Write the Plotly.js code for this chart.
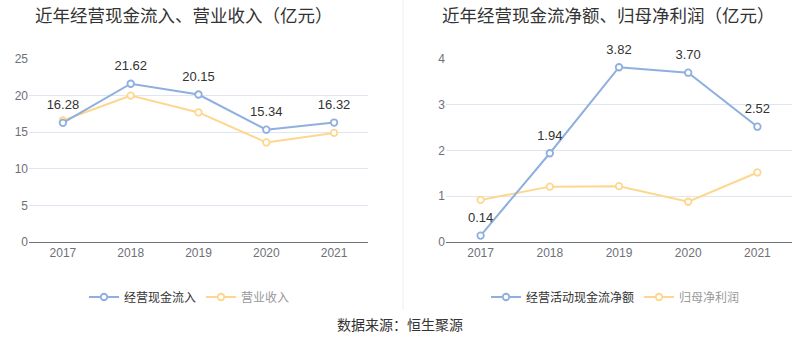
<!DOCTYPE html>
<html>
<head>
<meta charset="utf-8">
<script src="https://cdn.plot.ly/plotly-3.0.1.min.js"></script>
<style>html,body{margin:0;padding:0;background:#fff;}#chart{width:800px;height:358px;}</style>
</head>
<body>
<div id="chart"></div>
<script>
const years = ['2017', '2018', '2019', '2020', '2021'];
const cashInflow = [16.28, 21.62, 20.15, 15.34, 16.32];
const revenue = [16.6, 20.0, 17.7, 13.6, 14.9];
const netCashFlow = [0.14, 1.94, 3.82, 3.70, 2.52];
const netProfit = [0.92, 1.21, 1.22, 0.88, 1.52];
const leftTicks = [0, 5, 10, 15, 20, 25];
const rightTicks = [0, 1, 2, 3, 4];

const BLUE = '#8eafdf';
const YELLOW = '#fed78f';
const FONT = '"Liberation Sans", "Noto Sans CJK SC", sans-serif';
const CJK = '"Noto Sans CJK SC", sans-serif';

function lineTrace(x, y, name, color, xa, ya, legend) {
  return {
    x: x, y: y, name: name, type: 'scatter', mode: 'lines+markers',
    line: {color: color, width: 2},
    marker: {symbol: 'circle', size: 6.5, color: '#fff', line: {color: color, width: 1.8}},
    xaxis: xa, yaxis: ya, legend: legend, cliponaxis: false,
    hoverinfo: 'x+y'
  };
}
function labelTrace(x, y, xa, ya) {
  return {
    x: x, y: y, type: 'scatter', mode: 'markers+text',
    text: y.map(v => v.toFixed(2)), textposition: 'top center',
    textfont: {family: FONT, size: 13, color: '#333'},
    marker: {size: 15, opacity: 0},
    cliponaxis: false, showlegend: false, hoverinfo: 'skip',
    xaxis: xa, yaxis: ya
  };
}

const data = [
  lineTrace(years, revenue, '<span style="color:#999">营业收入</span>', YELLOW, 'x', 'y', 'legend'),
  lineTrace(years, cashInflow, '经营现金流入', BLUE, 'x', 'y', 'legend'),
  labelTrace(years, cashInflow, 'x', 'y'),
  lineTrace(years, netProfit, '<span style="color:#999">归母净利润</span>', YELLOW, 'x2', 'y2', 'legend2'),
  lineTrace(years, netCashFlow, '经营活动现金流净额', BLUE, 'x2', 'y2', 'legend2'),
  labelTrace(years, netCashFlow, 'x2', 'y2')
];

const xCommon = {
  type: 'category', range: [-0.5, 4.5], showgrid: false,
  showline: true, linecolor: '#6e7079', linewidth: 1,
  ticks: '', tickfont: {family: FONT, size: 12, color: '#6e7079'},
  fixedrange: true, zeroline: false
};
const yCommon = {
  showgrid: true, gridcolor: '#e0e6f1', gridwidth: 1,
  showline: false, zeroline: false, ticks: '',
  tickfont: {family: FONT, size: 12, color: '#6e7079'},
  fixedrange: true
};
const yDom = [1 - 242 / 358, 1 - 59 / 358];

const legendCommon = {
  orientation: 'h', xanchor: 'left', y: 1 - 297 / 358, yanchor: 'middle',
  font: {family: CJK, size: 12, color: '#333'}, itemwidth: 30,
  traceorder: 'reversed', bgcolor: 'rgba(0,0,0,0)'
};

const layout = {
  width: 800, height: 358,
  margin: {l: 0, r: 0, t: 0, b: 0},
  paper_bgcolor: '#fff', plot_bgcolor: '#fff',
  font: {family: FONT},
  showlegend: true,
  xaxis: Object.assign({}, xCommon, {domain: [29 / 800, 368 / 800], anchor: 'y'}),
  yaxis: Object.assign({}, yCommon, {domain: yDom, anchor: 'x', range: [0, 25], tickvals: leftTicks}),
  xaxis2: Object.assign({}, xCommon, {domain: [446 / 800, 792 / 800], anchor: 'y2'}),
  yaxis2: Object.assign({}, yCommon, {domain: yDom, anchor: 'x2', range: [0, 4], tickvals: rightTicks}),
  legend: Object.assign({}, legendCommon, {x: 84 / 800}),
  legend2: Object.assign({}, legendCommon, {x: 486 / 800}),
  shapes: [
    {type: 'line', xref: 'paper', yref: 'paper', x0: 403 / 800, x1: 403 / 800, y0: 1 - 310 / 358, y1: 1,
     line: {color: '#eeeeee', width: 1}}
  ],
  annotations: [
    {text: '近年经营现金流入、营业收入（亿元）', xref: 'paper', yref: 'paper', x: 184 / 800, y: 1 - 14 / 358,
     xanchor: 'center', yanchor: 'middle', showarrow: false, font: {family: CJK, size: 17.5, color: '#333'}},
    {text: '近年经营现金流净额、归母净利润（亿元）', xref: 'paper', yref: 'paper', x: 608 / 800, y: 1 - 14 / 358,
     xanchor: 'center', yanchor: 'middle', showarrow: false, font: {family: CJK, size: 17.5, color: '#333'}},
    {text: '数据来源：恒生聚源', xref: 'paper', yref: 'paper', x: 400 / 800, y: 1 - 324 / 358,
     xanchor: 'center', yanchor: 'middle', showarrow: false, font: {family: CJK, size: 14, color: '#333'}}
  ]
};

Plotly.newPlot('chart', data, layout, {displayModeBar: false, staticPlot: true});
</script>
</body>
</html>
